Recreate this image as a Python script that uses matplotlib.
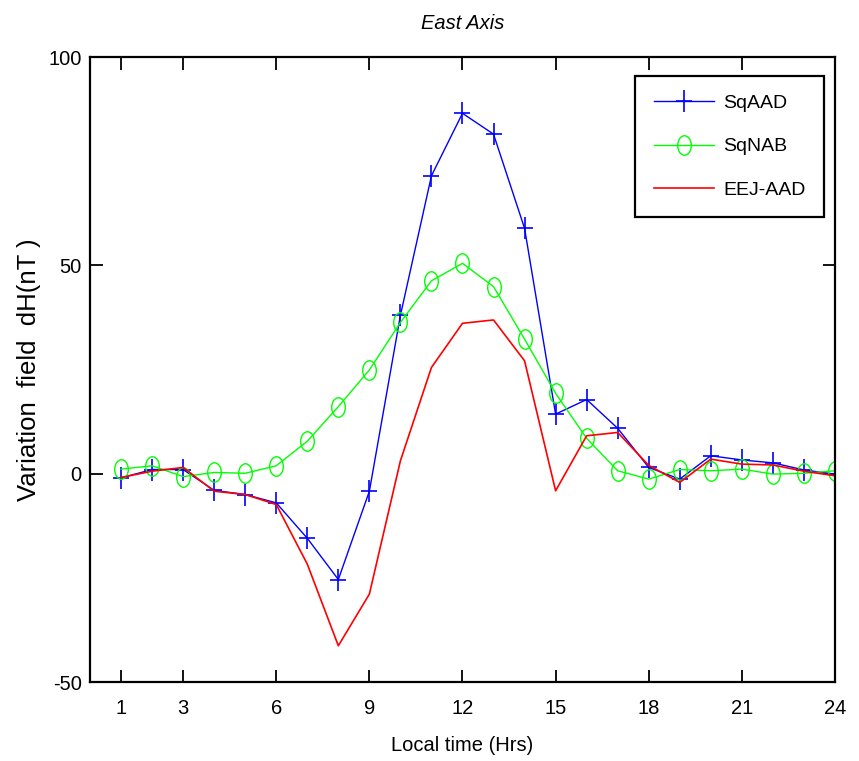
import numpy as np
import matplotlib.pyplot as plt
from matplotlib.path import Path
from matplotlib.transforms import Affine2D

plt.rcParams['font.family'] = ['Liberation Sans', 'DejaVu Sans']
plt.rcParams['axes.unicode_minus'] = False

# local time (hours) and variation field dH (nT) for the east axis
hours = np.arange(1, 25)
sq_aad = [-1.0, 1.0, 1.0, -4.0, -5.0, -7.0, -15.5, -25.4, -4.2, 38.0, 71.5, 86.5,
          81.5, 58.9, 14.3, 17.8, 10.9, 1.5, -1.3, 4.3, 3.3, 2.6, 0.9, -0.1]
sq_nab = [1.1, 1.9, -0.7, 0.3, 0.1, 1.9, 7.8, 16.1, 24.9, 36.3, 46.3, 50.5,
          44.9, 32.3, 19.3, 8.5, 0.7, -1.3, 1.0, 0.7, 1.1, -0.1, 0.1, 0.7]
eej_aad = [-0.9, 0.6, 1.5, -4.2, -5.0, -7.4, -21.7, -41.3, -28.9, 3.1, 25.5, 36.1,
           36.9, 27.1, -4.1, 9.1, 9.9, 2.0, -2.1, 3.5, 2.3, 2.1, 0.6, -0.5]

xticks = [1, 3, 6, 9, 12, 15, 18, 21, 24]
yticks = [-50, 0, 50, 100]

# markers a bit narrower than tall
plus_mk = Path([(-0.68, 0), (0.68, 0), (0, -1), (0, 1)],
               [Path.MOVETO, Path.LINETO, Path.MOVETO, Path.LINETO])
ring_mk = Path.unit_circle().transformed(Affine2D().scale(0.7, 1.0))

fig = plt.figure(figsize=(8.59, 7.61), dpi=100)
ax = fig.add_axes([0.1048, 0.1038, 0.8672, 0.8212])

ax.plot(hours, sq_aad, color='#0000ff', lw=1.0, marker=plus_mk, ms=16, mfc='none',
        mew=1.2, label='SqAAD')
ax.plot(hours, sq_nab, color='#00ff00', lw=1.0, marker=ring_mk, ms=14, mfc='none',
        mew=1.0, label='SqNAB')
ax.plot(hours, eej_aad, color='#ff0000', lw=1.2, label='EEJ-AAD')

ax.set_xlim(0, 24)
ax.set_ylim(-50, 100)
ax.set_xticks(xticks)
ax.set_yticks(yticks)
ax.tick_params(direction='in', top=True, right=True, length=9, width=1.3,
               labelsize=14.5)
ax.tick_params(axis='x', pad=12)
ax.tick_params(axis='y', pad=6)
for s in ax.spines.values():
    s.set_linewidth(1.6)

ax.set_title('East Axis', fontsize=14.5, style='italic', pad=20)
ax.set_xlabel('Local time (Hrs)', fontsize=14.5, labelpad=13)
ax.set_ylabel('Variation  field  dH(nT )', fontsize=18.5, labelpad=5)

leg = ax.legend(loc='upper right', fontsize=14, handlelength=3.1, handletextpad=0.45,
                fancybox=False, edgecolor='black', framealpha=1, borderpad=0.95,
                labelspacing=1.32, borderaxespad=0, bbox_to_anchor=(0.985, 0.9696))
leg.get_frame().set_linewidth(1.6)

fig.savefig('out.png', dpi=100)
